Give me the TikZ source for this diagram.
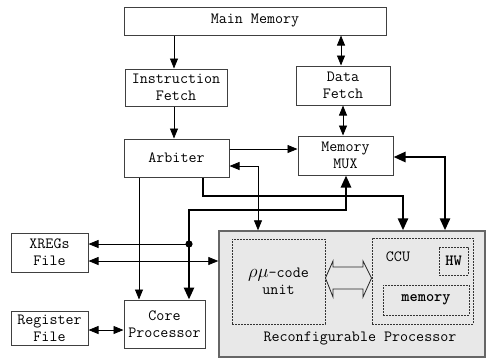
\documentclass[tikz,border=0pt]{standalone}
\usetikzlibrary{arrows.meta,calc}
\begin{document}
\begin{tikzpicture}[x=1pt,y=-1pt,
  txt/.style={font=\fontsize{15.6}{17}\selectfont\ttfamily},
  box/.style={txt,draw=black!75,line width=1pt,fill=white,inner sep=0pt,align=center},
  dbox/.style={txt,draw=black!80,line width=0.9pt,dash pattern=on 1.6pt off 1.4pt,inner sep=0pt,align=center},
  thinarr/.style={line width=0.8pt,-{Triangle[length=10pt,width=8pt]}},
  thinbi/.style={line width=0.8pt,{Triangle[length=10pt,width=8pt]}-{Triangle[length=10pt,width=8pt]}},
  thickarr/.style={line width=2.6pt,-{Triangle[length=12pt,width=10pt]}},
  thickbi/.style={line width=2.6pt,{Triangle[length=12pt,width=10pt]}-{Triangle[length=12pt,width=10pt]}},
  plain/.style={line width=0.8pt}
]
\useasboundingbox (0,0) rectangle (486,360);

% reconfigurable processor background
\node[draw=black!60,line width=1.4pt,fill=black!9,inner sep=0pt,minimum width=266pt,minimum height=126pt] (rp) at (352,294) {};
\node[txt] (rplabel) at (360,338) {Reconfigurable Processor};
\node[dbox,minimum width=93pt,minimum height=85pt] (ru) at (278.5,281.5) {\scalebox{1.3}{$\rho\mu$}-code\\unit};
\node[dbox,minimum width=101pt,minimum height=86pt] (ccu) at (422.5,281) {};
\node[txt] (ccul) at (398,257) {CCU};
\node[dbox,minimum width=29pt,minimum height=28pt,font=\fontsize{15.6}{17}\selectfont\ttfamily\bfseries] (hw) at (453.5,261) {HW};
\node[dbox,minimum width=86pt,minimum height=30pt,font=\fontsize{15.6}{17}\selectfont\ttfamily\bfseries] (mem) at (426,300) {memory};

% fat double arrow between ru and ccu
\draw[line width=0.8pt,black!85] (ru.east |- 0,278) -- (333,261) -- (333,267) -- (363,267) -- (363,261) -- (ccu.west |- 0,278)
  -- (363,297) -- (363,289) -- (333,289) -- (333,297) -- cycle;

% boxes
\node[box,minimum width=262pt,minimum height=28pt] (mm) at (255,21) {Main Memory};
\node[box,minimum width=102pt,minimum height=37pt] (if) at (176,87.5) {Instruction\\Fetch};
\node[box,minimum width=94pt,minimum height=39pt] (df) at (343,85.5) {Data\\Fetch};
\node[box,minimum width=105pt,minimum height=38pt] (arb) at (176.5,158) {Arbiter};
\node[box,minimum width=95pt,minimum height=39pt] (mux) at (345.5,155.5) {Memory\\MUX};
\node[box,minimum width=77pt,minimum height=39pt] (xr) at (49.5,252.5) {XREGs\\File};
\node[box,minimum width=77pt,minimum height=34pt] (rf) at (49.5,328) {Register\\File};
\node[box,minimum width=81pt,minimum height=48pt] (core) at (164.5,324) {Core\\Processor};

% thin connectors
\draw[thinarr] (mm.south -| 174,0) -- (if.north -| 174,0);
\draw[thinarr] (if.south -| 174,0) -- (arb.north -| 174,0);
\draw[thinbi] (mm.south -| 341,0) -- (df.north -| 341,0);
\draw[thinbi] (df.south -| 343,0) -- (mux.north -| 343,0);
\draw[thinarr] (arb.east |- 0,149) -- (mux.west |- 0,149);
\draw[thinbi] (arb.east |- 0,166) -- (258,166) -- (rp.north -| 258,0);
\draw[thinarr] (arb.south -| 139,0) -- (core.north -| 139,0);
\draw[thinbi] (xr.east |- 0,261) -- (rp.west |- 0,261);
\draw[thinbi] (rf.east |- 0,330) -- (core.west |- 0,330);

% thick connectors
\draw[thickarr] (arb.south -| 203,0) -- (203,196) -- (403,196) -- (rp.north -| 403,0);
\draw[thickbi] (mux.south -| 346,0) -- (346,210) -- (189,210) -- (core.north -| 189,0);
\draw[thickbi] (mux.east |- 0,157) -- (445,157) -- (rp.north -| 445,0);

% junction dot and branch to XREGs
\coordinate (j) at (189,244);
\fill (j) circle (3.6pt);
\draw[thinarr] (j) -- (xr.east |- j);
\end{tikzpicture}
\end{document}
